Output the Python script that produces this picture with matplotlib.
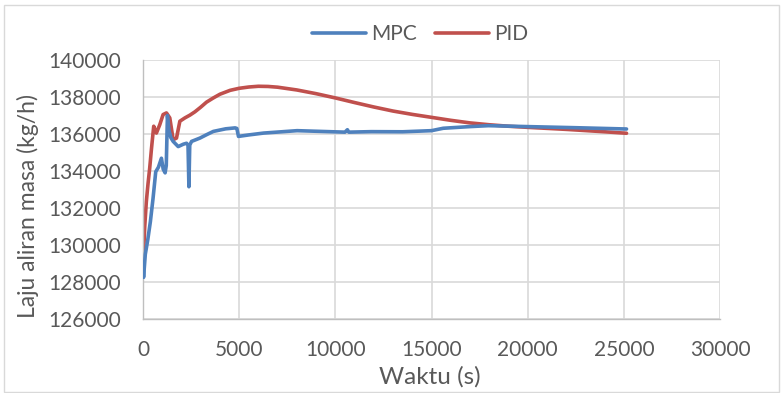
import matplotlib
matplotlib.use("Agg")
import matplotlib.pyplot as plt
from matplotlib.patches import Rectangle

plt.rcParams['font.family'] = ['Lato', 'DejaVu Sans']

# MPC series (time s, mass flow kg/h)
mpc_t = [0, 30, 120, 250, 383, 523, 662, 800, 958, 1050, 1150, 1210, 1270, 1350, 1450,
         1568, 1830, 2100, 2265, 2340, 2387, 2430, 2526, 2961, 3300, 3658, 4300, 4790, 4880,
         4964, 5500, 6270, 8013, 10500, 10627, 10700, 11864, 13500, 15000, 15610,
         17000, 17960, 20000, 22500, 25140]
mpc_y = [128900, 128250, 129500, 130300, 131260, 132530, 133960, 134200, 134690, 134100,
         133900, 134300, 137000, 136200, 135800, 135600, 135320, 135450, 135500, 135400,
         133150, 135400, 135600, 135780, 135960, 136140, 136280, 136330, 136300, 135870, 135950,
         136050, 136180, 136100, 136230, 136100, 136127, 136120, 136180, 136310, 136400,
         136450, 136400, 136340, 136270]

# PID series
pid_t = [0, 20, 90, 174, 260, 348, 440, 557, 697, 871, 1045, 1219, 1393, 1568, 1742,
         1916, 2178, 2439, 2700, 3000, 3300, 3658, 4000, 4529, 5000, 5500, 6000, 6500,
         7000, 8000, 9000, 10000, 11000, 12000, 13000, 14000, 15000, 16000, 17000, 18000,
         19000, 20000, 22000, 24000, 25140]
pid_y = [130700, 129300, 131000, 132350, 133300, 134150, 135200, 136420, 136050, 136500,
         137050, 137140, 136870, 135690, 135780, 136690, 136870, 137020, 137200, 137450,
         137720, 137950, 138150, 138360, 138470, 138540, 138580, 138570, 138530, 138380,
         138180, 137950, 137700, 137460, 137240, 137060, 136900, 136740, 136600, 136500,
         136420, 136360, 136250, 136120, 136040]

x_ticks = [0, 5000, 10000, 15000, 20000, 25000, 30000]
y_ticks = [126000, 128000, 130000, 132000, 134000, 136000, 138000, 140000]

text_color = '#595959'
fig = plt.figure(figsize=(7.81, 3.93), dpi=100)
fig.patches.append(Rectangle((0.005, 0.003), 0.993, 0.985, transform=fig.transFigure,
                             fill=False, edgecolor='#D9D9D9', linewidth=1.0))
ax = fig.add_axes([143/781, 1 - 319/393, (720 - 143)/781, (319 - 60)/393])

ax.plot(mpc_t, mpc_y, color='#4F81BD', linewidth=2.6, label='MPC',
        solid_capstyle='round', solid_joinstyle='round', zorder=3)
ax.plot(pid_t, pid_y, color='#C0504D', linewidth=2.6, label='PID',
        solid_capstyle='round', solid_joinstyle='round', zorder=2)

ax.set_xlim(0, 30000)
ax.set_ylim(126000, 140000)
ax.set_xticks(x_ticks)
ax.set_yticks(y_ticks)
ax.set_xticklabels([str(v) for v in x_ticks])
ax.set_yticklabels([str(v) for v in y_ticks])
ax.grid(True, color='#D9D9D9', linewidth=1.2)
ax.set_axisbelow(True)
ax.tick_params(length=0, labelsize=15, colors=text_color)
ax.tick_params(axis='y', pad=16)
ax.tick_params(axis='x', pad=15)
for s in ['top', 'right']:
    ax.spines[s].set_visible(False)
for s in ['left', 'bottom']:
    ax.spines[s].set_color('#BFBFBF')
    ax.spines[s].set_linewidth(1.0)

ax.set_xlabel('Waktu (s)', fontsize=17.5, color=text_color)
ax.set_ylabel('Laju aliran masa (kg/h)', fontsize=16.5, color=text_color)
ax.xaxis.set_label_coords(430/781, 1 - 377/393, transform=fig.transFigure)
ax.yaxis.set_label_coords(28/781, 1 - 206/393, transform=fig.transFigure)
ax.xaxis.label.set_verticalalignment('center')
ax.yaxis.label.set_verticalalignment('center')

leg = fig.legend(loc='center', bbox_to_anchor=(420/781, 1 - 34/393), ncol=2, frameon=False,
                 fontsize=15, handlelength=2.6, columnspacing=0.85, handletextpad=0.25)
for t in leg.get_texts():
    t.set_color(text_color)

fig.savefig('out.png', dpi=100)
